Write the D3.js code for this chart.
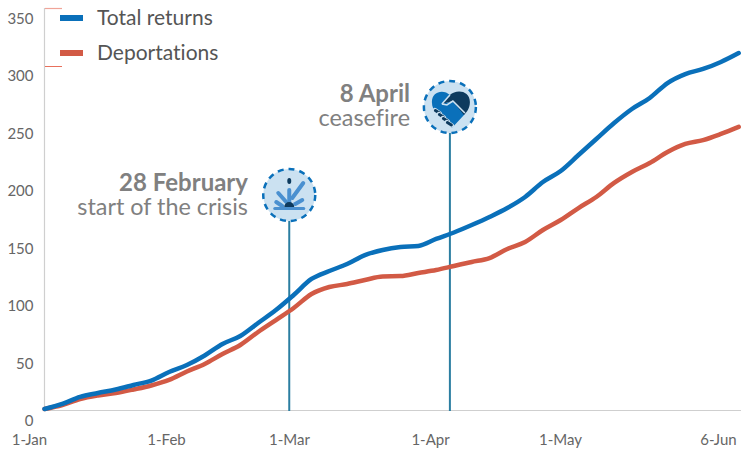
<!DOCTYPE html>
<html><head><meta charset="utf-8">
<script src="https://cdn.jsdelivr.net/npm/d3@7"></script>
<style>html,body{margin:0;padding:0;background:#fff}svg{display:block}text{font-family:Lato,"Open Sans",sans-serif;font-variant-ligatures:none}</style>
</head><body><svg id="c" width="749" height="451"></svg>
<script>
const sampleStepDays = 4;
const totalReturns = [10.4,14.8,20.9,24.3,27.4,31.3,35.2,42.6,48.7,57,67,73.9,85.2,96.5,109.6,123.5,130.4,136.5,144.3,148.7,151.3,152.2,158.3,163.9,170.4,177.4,185.2,194.8,207.8,217.4,231.3,245.2,259.1,271.3,280.9,293.9,301.7,306.1,312.2,320];
const deportations = [10.4,13.9,19.1,22.2,24.3,27.4,30.9,35.7,43,49.6,58.3,66.1,77.4,87.8,98.3,110.4,116.5,119.1,122.6,125.7,126,128.7,131.3,134.8,138.3,141.7,149.6,155.7,166.1,174.8,185.2,194.8,207,216.5,224.3,233.9,240.9,244.3,249.6,255.7];
const yTicks = [0,50,100,150,200,250,300,350];
const xTickLabels = ["1-Jan","1-Feb","1-Mar","1-Apr","1-May","6-Jun"];
const xTickDays = [0,31,59,90,120,156];
const seriesNames = ["Total returns","Deportations"];
const eventDays = [55,91.1];
const eventTitles = ["28 February","8 April"];
const eventSubs = ["start of the crisis","ceasefire"];

const svg = d3.select("#c");
const x = d3.scaleLinear().domain([0,156]).range([44.5,738.7]);
const y = d3.scaleLinear().domain([0,350]).range([421,18.5]);
const tickX = d3.scaleLinear().domain(xTickDays).range([29,166,289,430,560,718]);
const colors = ["#0a70ba","#d25a45"];
const AXIS="#cfcfcf", TXT="#666";

svg.append("line").attr("x1",44.5).attr("x2",44.5).attr("y1",8).attr("y2",411).attr("stroke",AXIS).attr("stroke-width",1.2);
svg.append("line").attr("x1",44).attr("x2",741).attr("y1",410.5).attr("y2",410.5).attr("stroke",AXIS).attr("stroke-width",1.2);
svg.append("line").attr("x1",45).attr("x2",62).attr("y1",8.5).attr("y2",8.5).attr("stroke","#f0a498").attr("stroke-width",1.2);
svg.append("line").attr("x1",45).attr("x2",62).attr("y1",66.5).attr("y2",66.5).attr("stroke","#e8705c").attr("stroke-width",1);

const ya = svg.append("g").attr("transform","translate(33.5,0)")
  .call(d3.axisLeft(y).tickValues(yTicks).tickSize(0).tickPadding(0));
ya.select(".domain").remove();
ya.selectAll("text").attr("font-size",15).attr("fill",TXT).style("font-family","Lato");

const xa = svg.append("g").attr("transform","translate(0,434)")
  .call(d3.axisBottom(tickX).tickValues(xTickDays).tickSize(0).tickPadding(0).tickFormat((d,i)=>xTickLabels[i]));
xa.select(".domain").remove();
xa.selectAll("text").attr("font-size",15).attr("fill",TXT).style("font-family","Lato");

const eventTop = [221,133];
svg.selectAll(".ev").data(eventDays).join("line").attr("class","ev")
  .attr("x1",d=>x(d)).attr("x2",d=>x(d)).attr("y1",(d,i)=>eventTop[i]).attr("y2",411)
  .attr("stroke","#2b7ea1").attr("stroke-width",2);

const line = d3.line().x((d,i)=>x(i*sampleStepDays)).y(d=>y(d)).curve(d3.curveMonotoneX);
svg.append("path").attr("d",line(deportations)).attr("fill","none").attr("stroke",colors[1]).attr("stroke-width",4.5).attr("stroke-linecap","round");
svg.append("path").attr("d",line(totalReturns)).attr("fill","none").attr("stroke",colors[0]).attr("stroke-width",4.5).attr("stroke-linecap","round");

seriesNames.forEach((n,i)=>{
  const cy=18+i*35;
  svg.append("rect").attr("x",60).attr("y",cy-3).attr("width",23).attr("height",6).attr("fill",colors[i]);
  svg.append("text").attr("x",97).attr("y",cy).attr("dy","0.35em").attr("font-size",21).attr("fill","#555").text(n);
});

const textRight=[248,410], titleBase=[191,102];
eventTitles.forEach((t,i)=>{
  const label=svg.append("text").attr("text-anchor","end").attr("fill","#808080");
  label.append("tspan").attr("x",textRight[i]).attr("y",titleBase[i])
    .attr("font-size",24).attr("font-weight",700).text(t);
  label.append("tspan").attr("x",textRight[i]).attr("y",titleBase[i]+24)
    .attr("font-size",23.4).text(eventSubs[i]);
});

function badge(cx,cy){
  const g=svg.append("g").attr("transform",`translate(${cx},${cy})`);
  g.append("circle").attr("r",26).attr("fill","#cbe1f1").attr("stroke","#0a70ba")
   .attr("stroke-width",2.5).attr("stroke-dasharray","6 5");
  return g;
}
const g1=badge(x(eventDays[0]),195);
[[3,3,14,-12],[0,7,0,-5],[-3,7,-11,-2],[-7,11,-13,7],[6,9,13,5]].forEach(a=>{
  g1.append("line").attr("x1",a[0]).attr("y1",a[1]).attr("x2",a[2]).attr("y2",a[3])
    .attr("stroke","#4a90d0").attr("stroke-width",4).attr("stroke-linecap","round");
});
g1.append("rect").attr("x",-16).attr("y",12).attr("width",32).attr("height",3).attr("rx",1.5).attr("fill","#4a90d0");
g1.append("path").attr("d","M-5,12a5,5 0 0 1 10,0z").attr("fill","#0d3a5e");
g1.append("ellipse").attr("cx",0).attr("cy",-14).attr("rx",2).attr("ry",3).attr("fill","#0d3a5e");

const g2=badge(x(eventDays[1]),107);
g2.append("path").attr("d","M0,-12C-6,-18 -18,-16 -18,-5C-18,0 -16,3 -14,5L2,21L15,7L3,-6L-8,-3z").attr("fill","#0a70ba");
g2.append("path").attr("d","M0,-12C6,-18 20,-17 20,-5C20,1 17,5 14,8L3,-6L-8,-3z").attr("fill","#0d3a5e");
g2.append("path").attr("d","M-8,-3L0,-12").attr("fill","none").attr("stroke","#cbe1f1").attr("stroke-width",1.6);
g2.append("path").attr("d","M-8,-3L-3,-2L3,-6L15,6").attr("fill","none").attr("stroke","#cbe1f1").attr("stroke-width",1.6);
[[-15,3],[-11,7],[-7,11],[-3,15]].forEach(p=>{
  g2.append("line").attr("x1",p[0]).attr("y1",p[1]).attr("x2",p[0]+5).attr("y2",p[1]+3.5)
    .attr("stroke","#cbe1f1").attr("stroke-width",4.5).attr("stroke-linecap","round");
  g2.append("line").attr("x1",p[0]+0.5).attr("y1",p[1]+0.5).attr("x2",p[0]+4.5).attr("y2",p[1]+3)
    .attr("stroke","#0d3a5e").attr("stroke-width",3).attr("stroke-linecap","round");
});
</script></body></html>
